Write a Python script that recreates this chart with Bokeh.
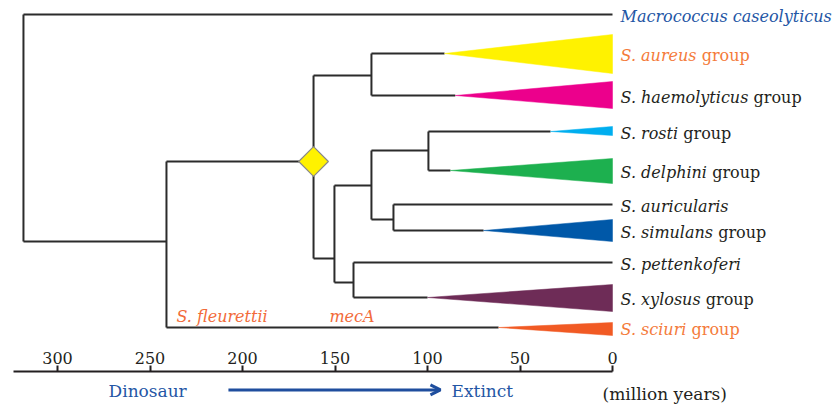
import glob
from bokeh.plotting import figure
from bokeh.models import Range1d, FixedTicker, Arrow, OpenHead, ColumnDataSource
from bokeh.layouts import column
from bokeh.embed import file_html
from bokeh.resources import INLINE
from bokeh.core.properties import value

# ---------------- data ----------------
leaf_italic = ["Macrococcus caseolyticus", "S. aureus", "S. haemolyticus", "S. rosti",
               "S. delphini", "S. auricularis", "S. simulans", "S. pettenkoferi",
               "S. xylosus", "S. sciuri"]
leaf_suffix = ["", "group", "group", "group", "group", "", "group", "", "group", "group"]
leaf_row = [14, 53, 95, 131, 170, 204, 230, 262, 297, 327]
# age (million years) where a collapsed clade starts (0 = single lineage)
leaf_tip_age = [0, 90.8, 85.0, 33.5, 87.6, 0, 69.7, 0, 100.0, 61.6]
clade_top = [None, 34, 81, 126, 158, None, 219, None, 284, 322]
clade_bottom = [None, 73, 108, 135, 183, None, 241, None, 311, 335]
clade_color = [None, "#FFF200", "#EC008C", "#00AEEF", "#1DB04F", None, "#0058A8", None,
               "#6E2C57", "#F15A24"]
label_color = ["#2456A5", "#F47B3B", "#231F20", "#231F20", "#231F20", "#231F20",
               "#231F20", "#231F20", "#231F20", "#F47B3B"]

# internal nodes: age (million years), row, children ("L", i) leaf / ("N", i) node
node_age = [318.4, 241.1, 161.6, 130.3, 150.3, 130.3, 99.5, 118.4, 140.0]
node_row = [128, 241, 161, 75, 258, 185, 150, 219, 282]
node_children = [
    [("L", 0), ("N", 1)],
    [("N", 2), ("L", 9)],
    [("N", 3), ("N", 4)],
    [("L", 1), ("L", 2)],
    [("N", 5), ("N", 8)],
    [("N", 6), ("N", 7)],
    [("L", 3), ("L", 4)],
    [("L", 5), ("L", 6)],
    [("L", 7), ("L", 8)],
]
mark_node = 2  # diamond: mecA acquisition

branch_notes = ["S. fleurettii", "mecA"]
branch_note_age = [235.7, 153.0]
branch_note_row = [316, 316]

time_ticks = [300, 250, 200, 150, 100, 50, 0]
era_labels = ["Dinosaur", "Extinct"]
era_label_age = [272.4, 87.0]
era_arrow = (207.6, 93.0)
unit_label = "(million years)"
unit_label_age = 5.4

# ---------------- layout ----------------
PX_PER_MY = 1.85
W = 832
AGE_LEFT = 612 / PX_PER_MY
AGE_RIGHT = AGE_LEFT - W / PX_PER_MY
H1 = 348
AX_H = 22
H2 = 405 - H1
FONT = "DejaVu Serif"
FS = 16
LINE = "#2B2B2B"

def find_font(name):
    hits = glob.glob("/usr/share/fonts/**/" + name, recursive=True)
    return hits[0] if hits else None

def text_width(txt, fname, size):
    try:
        from PIL import ImageFont
        path = find_font(fname)
        if path:
            return ImageFont.truetype(path, size).getlength(txt)
    except Exception:
        pass
    return 0.56 * size * len(txt)

xr = Range1d(AGE_LEFT, AGE_RIGHT)

p = figure(width=W, height=H1, x_range=xr, y_range=Range1d(H1, 0),
           output_backend="svg", toolbar_location=None,
           x_axis_location=None, y_axis_location=None, min_border=0)
p.grid.visible = False
p.outline_line_color = None

# branches
hx0, hx1, hy = [], [], []
vx, vy0, vy1 = [], [], []
def child_pos(c):
    kind, i = c
    if kind == "L":
        return leaf_tip_age[i], leaf_row[i]
    return node_age[i], node_row[i]

for i, kids in enumerate(node_children):
    rows = [child_pos(c)[1] for c in kids]
    vx.append(node_age[i]); vy0.append(min(rows)); vy1.append(max(rows))
    for c in kids:
        a, r = child_pos(c)
        hx0.append(node_age[i]); hx1.append(a); hy.append(r)

p.segment(x0=hx0, y0=hy, x1=hx1, y1=hy, line_color=LINE, line_width=2)
p.segment(x0=vx, y0=vy0, x1=vx, y1=vy1, line_color=LINE, line_width=2)

# collapsed clades
xs, ys, cols = [], [], []
for i in range(len(leaf_row)):
    if clade_color[i]:
        xs.append([leaf_tip_age[i], 0, 0])
        ys.append([leaf_row[i], clade_top[i], clade_bottom[i]])
        cols.append(clade_color[i])
p.patches(xs=xs, ys=ys, fill_color=cols, line_color=cols, line_width=0.5)

# mecA diamond
p.scatter(x=[node_age[mark_node]], y=[node_row[mark_node]], marker="square", angle=0.785398,
          size=21, fill_color="#FFF200", line_color="#8A8A8A", line_width=1.2)

# leaf labels
it_w = [text_width(t, "DejaVuSerif-Italic.ttf", FS) for t in leaf_italic]
sp_w = text_width(" ", "DejaVuSerif.ttf", FS)
src = ColumnDataSource(dict(x=[0] * len(leaf_row), y=[r + 1.5 for r in leaf_row],
                            t=leaf_italic, s=leaf_suffix, c=label_color,
                            off=[8 + w + sp_w for w in it_w]))
p.text(x="x", y="y", text="t", x_offset=8, source=src, text_color="c",
       text_font=value(FONT), text_font_style="italic", text_font_size=f"{FS}px",
       text_baseline="middle", text_align="left")
p.text(x="x", y="y", text="s", x_offset="off", source=src, text_color="c",
       text_font=value(FONT), text_font_size=f"{FS}px",
       text_baseline="middle", text_align="left")

p.text(x=branch_note_age, y=branch_note_row, text=branch_notes, text_color="#F26B3A",
       text_font=value(FONT), text_font_style="italic", text_font_size=f"{FS}px",
       text_baseline="middle", text_align="left")

# ---------------- time axis ----------------
Y_TOP = H1 + AX_H
q = figure(width=W, height=H2, x_range=xr, y_range=Range1d(405, Y_TOP),
           output_backend="svg", toolbar_location=None,
           x_axis_location="above", y_axis_location=None, min_border=0,
           min_border_top=AX_H)
q.grid.visible = False
q.outline_line_color = None
ax = q.xaxis[0]
ax.ticker = FixedTicker(ticks=time_ticks)
ax.bounds = (0, 324)
ax.axis_line_color = "#231F20"
ax.axis_line_width = 2
ax.major_tick_line_color = "#231F20"
ax.major_tick_line_width = 2
ax.major_tick_out = 6
ax.major_tick_in = 0
ax.minor_tick_out = 0
ax.minor_tick_in = 0
ax.major_label_standoff = 2
ax.major_label_text_font = FONT
ax.major_label_text_font_size = "16px"
ax.major_label_text_color = "#231F20"

q.text(x=era_label_age, y=[390, 390], text=era_labels, text_color="#2456A5",
       text_font=value(FONT), text_font_size="17px", text_baseline="middle",
       text_align="left")
q.add_layout(Arrow(x_start=era_arrow[0], y_start=389, x_end=era_arrow[1], y_end=389,
                   line_color="#1F4E9E", line_width=3,
                   end=OpenHead(size=10, line_color="#1F4E9E", line_width=3)))
q.text(x=[unit_label_age], y=[393], text=[unit_label], text_color="#231F20",
       text_font=value(FONT), text_font_size="17px", text_baseline="middle",
       text_align="left")

layout = column(p, q, spacing=0)
open("out.html", "w").write(file_html(layout, INLINE))
